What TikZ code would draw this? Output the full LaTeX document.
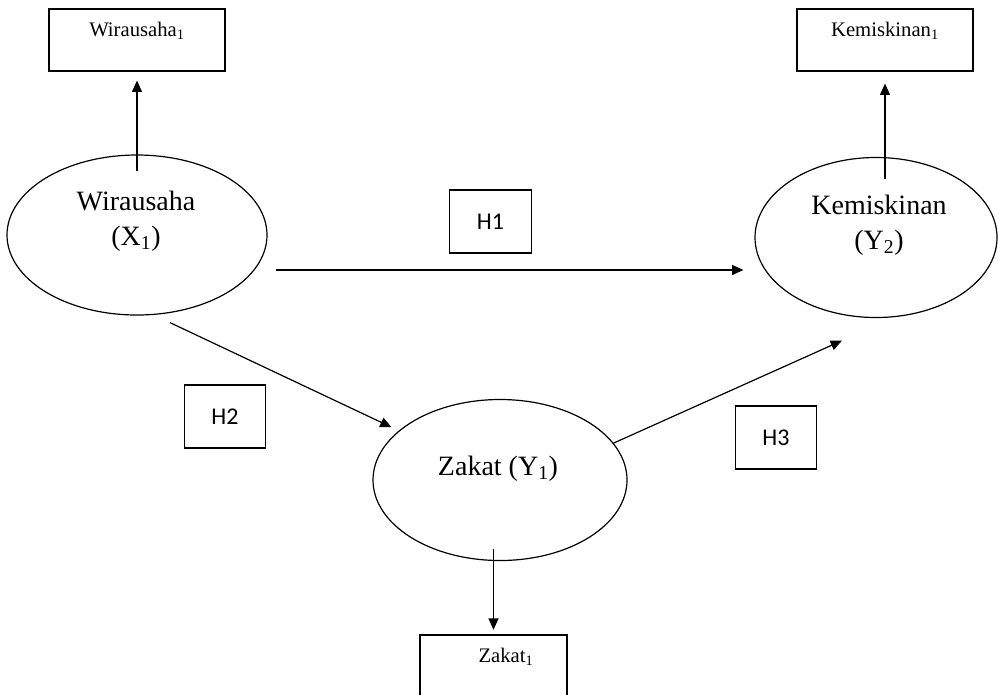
\documentclass[tikz,border=0pt]{standalone}
\usepackage{fontspec}
\setmainfont{Liberation Serif}
\newfontfamily\hfont{Carlito}
\usetikzlibrary{shapes.geometric,arrows.meta}
\begin{document}
\begin{tikzpicture}[x=0.75pt,y=-0.75pt,line width=0.9pt,
  lat/.style={ellipse,draw,inner sep=0pt},
  lattext/.style={align=center,inner sep=0pt,font=\fontsize{21}{26}\selectfont},
  indbox/.style={rectangle,draw,inner sep=0pt},
  indtext/.style={inner sep=0pt,font=\fontsize{15.5}{18}\selectfont},
  hbox/.style={rectangle,draw,inner sep=0pt,minimum width=61pt,minimum height=47.25pt,font=\hfont\fontsize{18}{20}\selectfont},
  arr/.style={-{Triangle[length=8.5pt,width=7.5pt]}}]
\useasboundingbox (0,0) rectangle (998,694);
\clip (0,0) rectangle (998,694);

% latent variables
\node[lat,minimum width=195pt,minimum height=120pt] (wx) at (137,235) {};
\node[lattext] at (136,221) {Wirausaha\\(X\textsubscript{1})};
\node[lat,minimum width=181.5pt,minimum height=120pt] (ky) at (876,237.5) {};
\node[lattext] at (879,225) {Kemiskinan\\(Y\textsubscript{2})};
\node[lat,minimum width=190.5pt,minimum height=120.75pt] (zk) at (500,480) {};
\node[lattext] at (498,469) {Zakat (Y\textsubscript{1})};

% indicators
\node[indbox,minimum width=132pt,minimum height=46.5pt] (wb) at (137,40) {};
\node[indtext] at (137,31) {Wirausaha\textsubscript{1}};
\node[indbox,minimum width=132pt,minimum height=46.5pt] (kb) at (885,40) {};
\node[indtext] at (885,31) {Kemiskinan\textsubscript{1}};
\node[indbox,minimum width=110.25pt,minimum height=55.5pt] (zb) at (493.5,672) {};
\node[indtext] at (506,657) {Zakat\textsubscript{1}};

% hypothesis labels
\node[hbox] (h1) at (490.5,221.5) {H1};
\node[hbox] (h2) at (225,416.5) {H2};
\node[hbox] (h3) at (776,437.5) {H3};

% connectors
\draw[arr,shorten >=6.75pt] ([shift={(0,17)}]wx.north) -- (wb.south);
\draw[arr,shorten >=9pt] ([shift={(9,22)}]ky.north) -- (kb.south);
\draw[arr,shorten >=3.5pt] ([shift={(-6.5,-12)}]zk.south) -- (zb.north);
\draw[arr] ([shift={(8,35)}]wx.east) -- ([shift={(-11,32.5)}]ky.west);
\draw[arr,shorten >=6pt] ([shift={(33,7)}]wx.south) -- (zk.154);
\draw[arr] (zk.18) -- ([shift={(-34,22.5)}]ky.south);
\end{tikzpicture}
\end{document}
